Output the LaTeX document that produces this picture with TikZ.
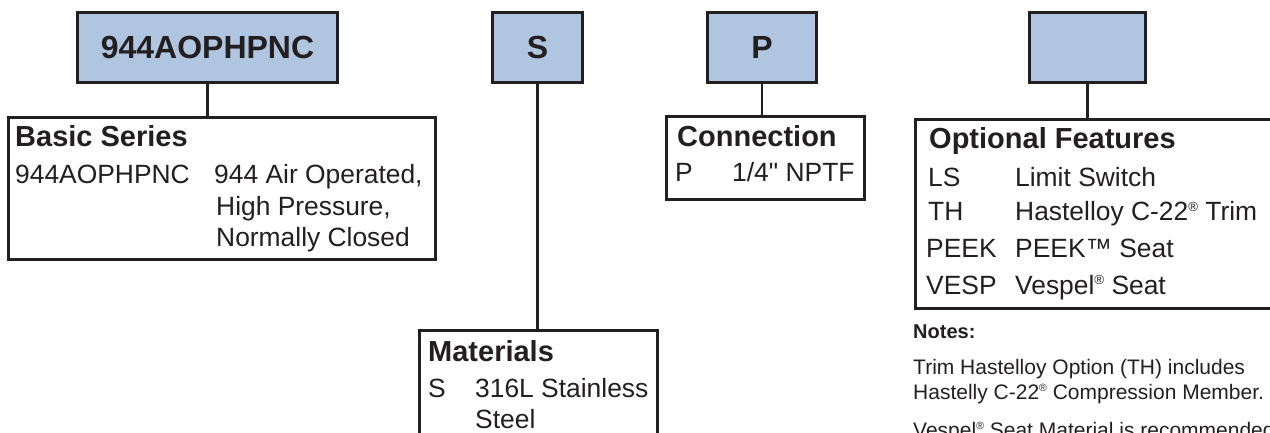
\documentclass[tikz,border=0pt]{standalone}
\usepackage{fontspec}
\setmainfont{Liberation Sans}[Ligatures=TeXOff]
\definecolor{ink}{RGB}{35,31,32}
\definecolor{boxblue}{RGB}{176,197,224}
\newcommand\regmark{\raisebox{0.36em}{\scalebox{0.5}{®}}}
\tikzset{
  codebox/.style={draw=ink, line width=3pt, fill=boxblue, inner sep=0pt,
    minimum height=70pt, text=ink, font=\fontsize{32}{38}\selectfont\bfseries},
  listbox/.style={draw=ink, line width=3pt, fill=white, inner sep=0pt, anchor=north west},
  heading/.style={anchor=base west, inner sep=0pt, text=ink,
    font=\fontsize{29}{34}\selectfont\bfseries},
  entry/.style={anchor=base west, inner sep=0pt, text=ink,
    font=\fontsize{26.4}{32}\selectfont},
  noteshead/.style={anchor=base west, inner sep=0pt, text=ink,
    font=\fontsize{20}{24}\selectfont\bfseries},
  notetext/.style={anchor=base west, inner sep=0pt, text=ink,
    font=\fontsize{21}{25}\selectfont},
  link/.style={draw=ink, line width=2.5pt}
}
\begin{document}
\begin{tikzpicture}[x=1pt,y=-1pt]
  \useasboundingbox (0,0) rectangle (1270,433);
  \clip (0,0) rectangle (1270,433);
  % code boxes
  \node[codebox, minimum width=260pt] (series) at (207.5,47.5) {944AOPHPNC};
  \node[codebox, minimum width=90pt] (mat) at (537.5,47.5) {S};
  \node[codebox, minimum width=109pt] (conn) at (762,47.5) {P};
  \node[codebox, minimum width=116pt] (opt) at (1087.5,47.5) {};
  % option boxes
  \node[listbox, minimum width=427pt, minimum height=141pt] (basic) at (6.5,116.5) {};
  \node[listbox, minimum width=238pt, minimum height=200pt] (materials) at (417.5,328.5) {};
  \node[listbox, minimum width=198pt, minimum height=83pt] (connection) at (664.5,115.5) {};
  \node[listbox, minimum width=500pt, minimum height=188pt] (optional) at (913.5,118.5) {};
  \begin{scope}[link]
    \draw (series.south) -- (series.south |- basic.north);
    \draw (mat.south) -- (mat.south |- materials.north);
    \draw (conn.south) -- (conn.south |- connection.north);
    \draw (opt.south) -- (opt.south |- optional.north);
  \end{scope}
  % basic series
  \node[heading] (basichead) at (15,147) {Basic Series};
  \node[entry] (basiccode) at (15,183) {944AOPHPNC};
  \node[entry] (basicone) at (214,183) {944 Air Operated,};
  \node[entry] (basictwo) at (216,215) {High Pressure,};
  \node[entry] (basicthree) at (216,246) {Normally Closed};
  % materials
  \node[heading] (mathead) at (428,361) {Materials};
  \node[entry] (matcode) at (428,397) {S};
  \node[entry] (matone) at (475,397) {316L Stainless};
  \node[entry] (mattwo) at (475,428) {Steel};
  % connection
  \node[heading] (connhead) at (677,147) {Connection};
  \node[entry] (conncode) at (675,182) {P};
  \node[entry] (connone) at (732,182) {1/4" NPTF};
  % optional features
  \node[heading] (opthead) at (929,149) {Optional Features};
  \node[entry] (ls) at (928,186) {LS};
  \node[entry] (lsdesc) at (1015,186) {Limit Switch};
  \node[entry] (th) at (928,221) {TH};
  \node[entry] (thdesc) at (1015,221) {Hastelloy C-22\regmark{} Trim};
  \node[entry] (peek) at (926,258) {PEEK};
  \node[entry] (peekdesc) at (1015,258) {PEEK™ Seat};
  \node[entry] (vesp) at (926,294) {VESP};
  \node[entry] (vespdesc) at (1015,294) {Vespel\regmark{} Seat};
  % notes
  \node[noteshead] (noteshead) at (913,338) {Notes:};
  \node[notetext] (noteone) at (913,374) {Trim Hastelloy Option (TH) includes};
  \node[notetext] (notetwo) at (913,399) {Hastelly C-22\regmark{} Compression Member.};
  \node[notetext] (notethree) at (913,437) {Vespel\regmark{} Seat Material is recommended};
\end{tikzpicture}
\end{document}
